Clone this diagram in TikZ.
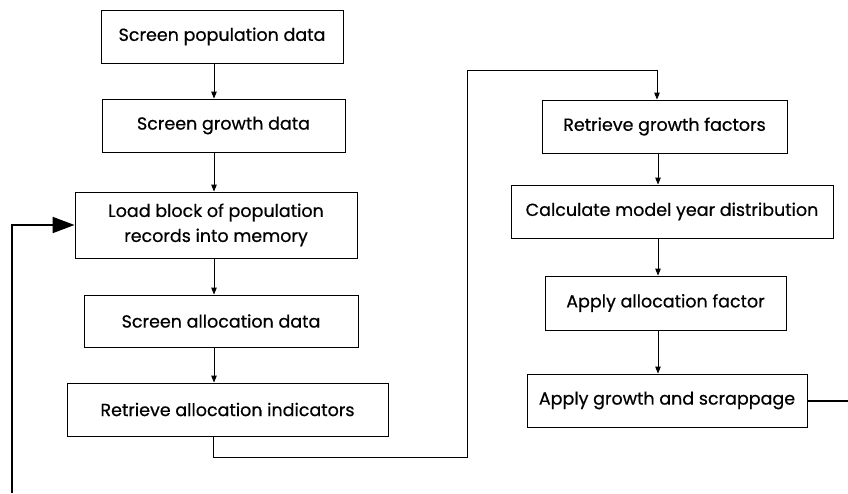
\documentclass[tikz,border=0pt]{standalone}
\usepackage{fontspec}
\setmainfont{Poppins}
\newfontfamily\boxfont{Poppins}[FakeBold=0.6]
\usetikzlibrary{arrows.meta,calc}

\begin{document}
\begin{tikzpicture}[x=1pt,y=-1pt,
  box/.style={draw=black, line width=0.9pt, inner sep=0pt, align=center,
    font=\boxfont\fontsize{17.5}{25}\selectfont},
  arr/.style={line width=0.9pt, -{Triangle[length=7pt,width=5.5pt]}},
  loopline/.style={line width=2pt},
  bigarr/.style={line width=2pt, -{Triangle[length=22pt,width=16pt]}}]
\useasboundingbox (0,0) rectangle (848,493);

% box from (left,top) to (right,bottom)
\newcommand{\flowbox}[6]{%
  \node[box, minimum width=#4-#2, minimum height=#5-#3]
    (#1) at ({(#2+#4)/2},{(#3+#5)/2}) {#6};}

% left column
\flowbox{b1}{101}{10}{343}{63}{Screen population data}
\flowbox{b2}{102}{99}{345}{152}{Screen growth data}
\flowbox{b3}{75}{192}{357}{258}{Load block of population\\records into memory}
\flowbox{b4}{84}{295}{358}{347}{Screen allocation data}
\flowbox{b5}{67}{383}{388}{436}{Retrieve allocation indicators}

% right column
\flowbox{r1}{542}{100}{787}{153}{Retrieve growth factors}
\flowbox{r2}{511}{185}{833}{238}{Calculate model year distribution}
\flowbox{r3}{545}{276}{786}{330}{Apply allocation factor}
\flowbox{r4}{527}{374}{807}{427}{Apply growth and scrappage}

% column lines and routing points
\coordinate (colL) at (214,0);
\coordinate (colR) at (658,0);
\coordinate (dropL) at (213,457);
\coordinate (dropR) at (467,457);
\coordinate (topR) at (467,70);
\coordinate (topT) at (657,70);
\coordinate (loopBot) at (12,493);
\coordinate (loopTop) at (12,225);
\coordinate (outEnd) at (848,400);

\draw[arr] (b1.south -| colL) -- (b2.north -| colL);
\draw[arr] (b2.south -| colL) -- (b3.north -| colL);
\draw[arr] (b3.south -| colL) -- (b4.north -| colL);
\draw[arr] (b4.south -| colL) -- (b5.north -| colL);

\draw[arr] (b5.south -| dropL) -- (dropL) -- (dropR) -- (topR) -- (topT) -- (r1.north -| topT);

\draw[arr] (r1.south -| colR) -- (r2.north -| colR);
\draw[arr] (r2.south -| colR) -- (r3.north -| colR);
\draw[arr] (r3.south -| colR) -- (r4.north -| colR);

% return path
\draw[loopline] (r4.east) -- (r4.east -| outEnd);
\draw[bigarr] (loopBot) -- (loopTop) -- (b3.west |- loopTop);
\end{tikzpicture}
\end{document}
